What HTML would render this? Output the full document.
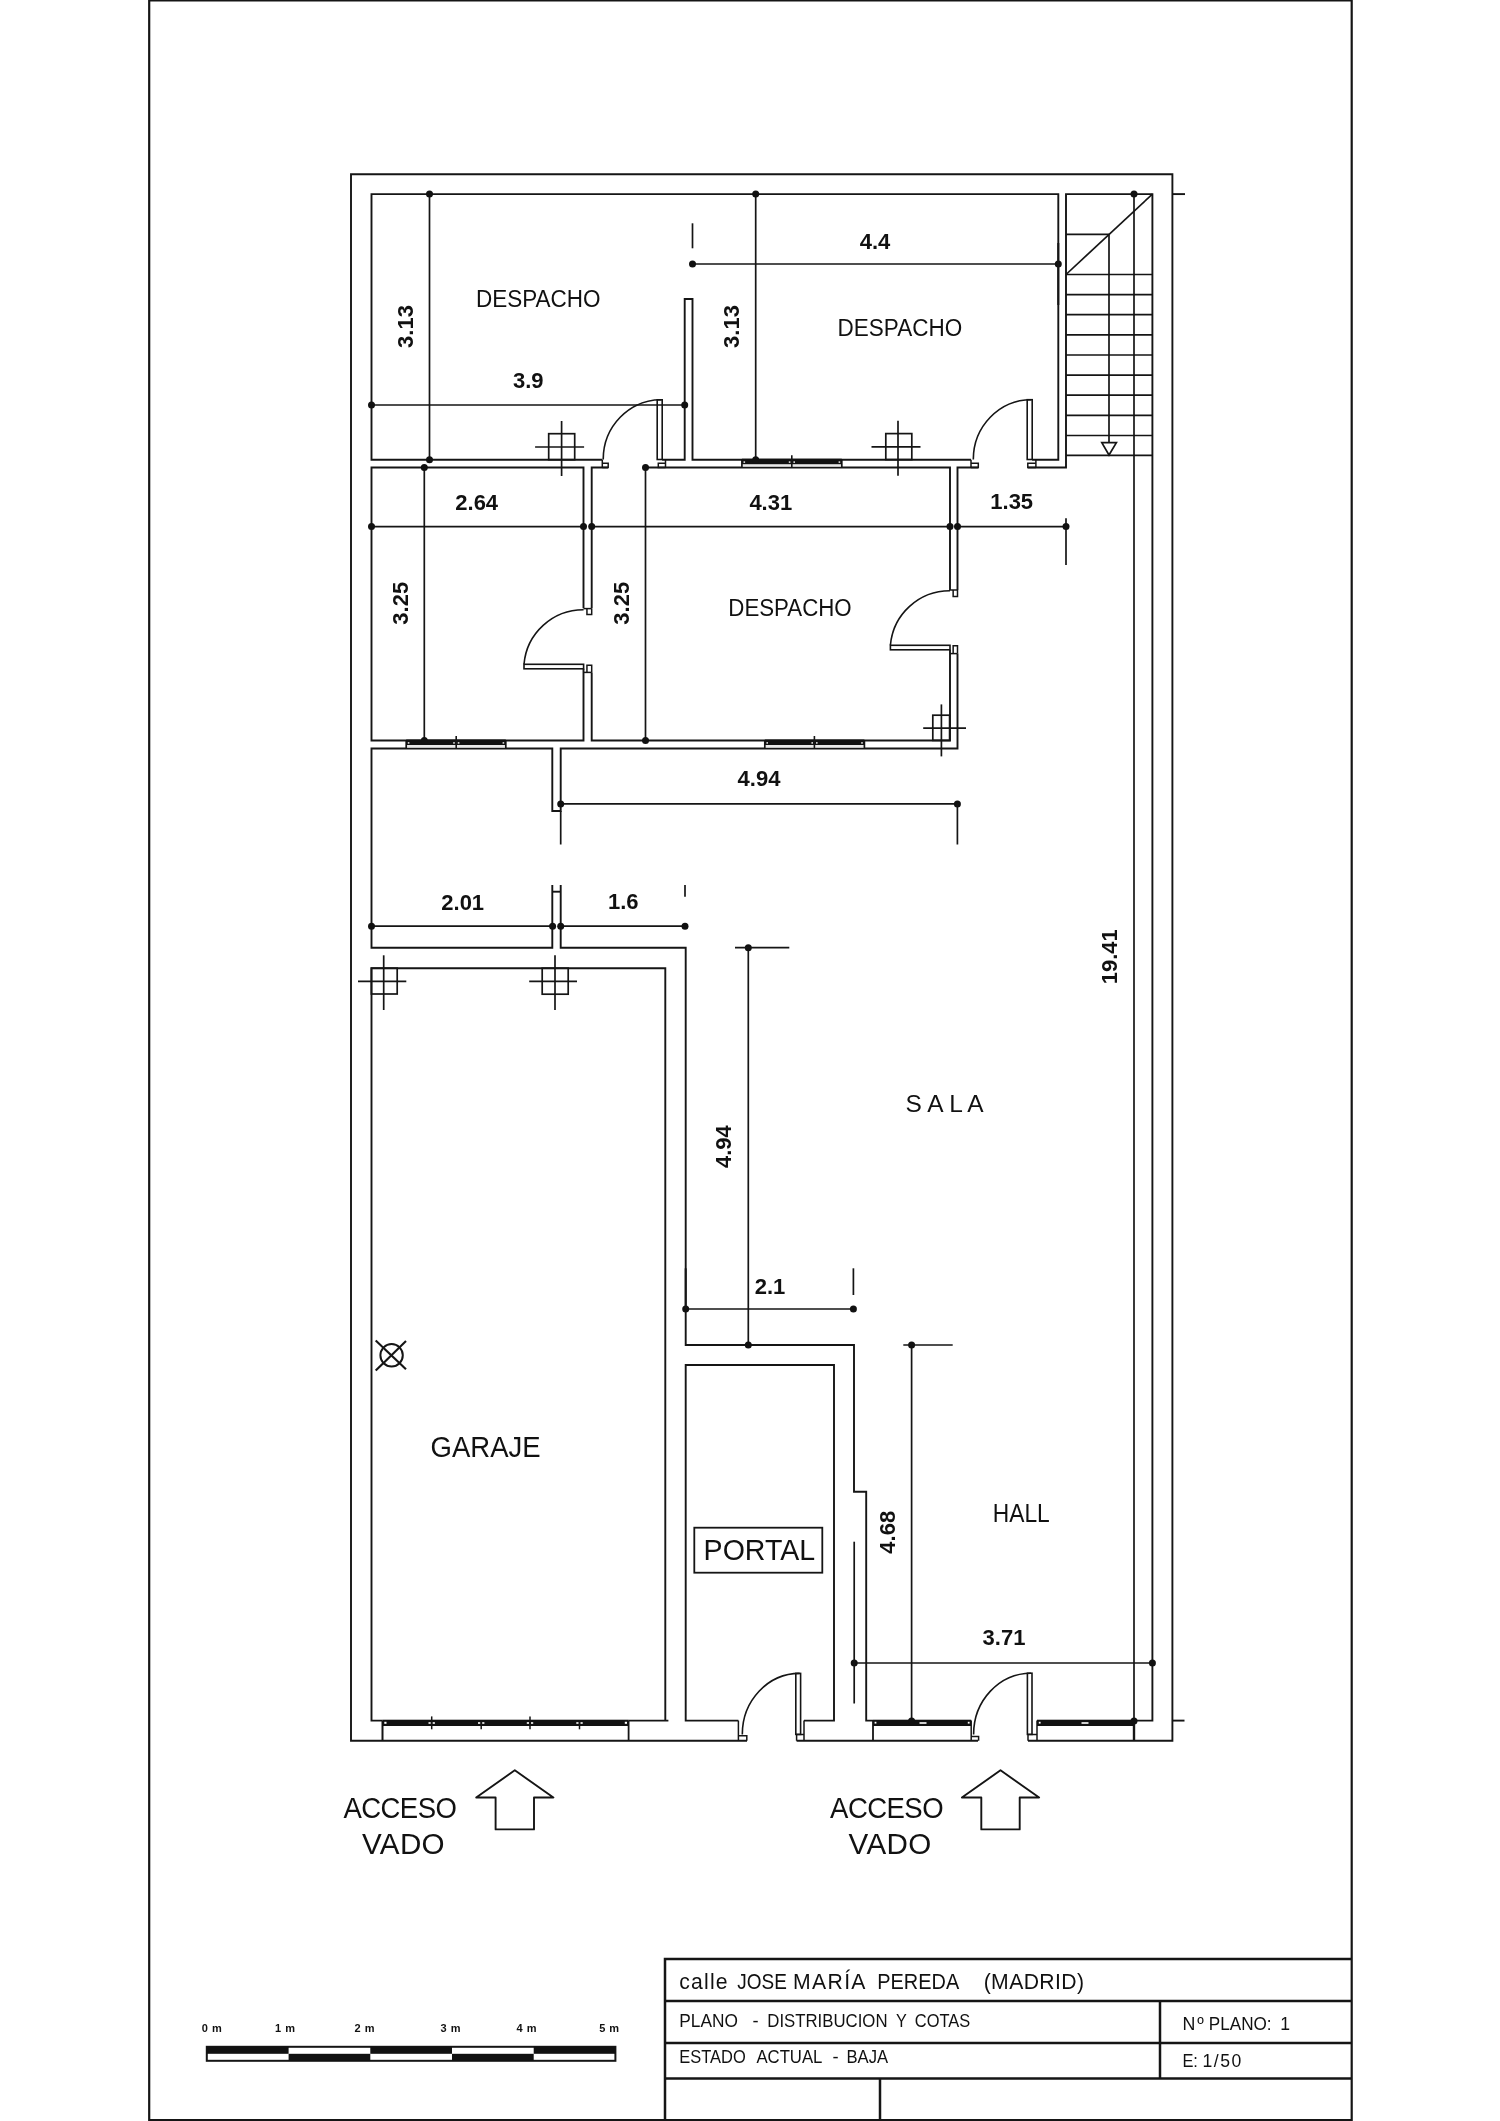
<!DOCTYPE html>
<html lang="es"><head><meta charset="utf-8"><title>Plano - Distribucion y cotas</title>
<style>
html,body{margin:0;padding:0;background:#fff}
body{width:1500px;height:2121px;overflow:hidden}
svg{display:block;will-change:transform}
svg text{font-family:"Liberation Sans",sans-serif;fill:#111;stroke:none}
.d{font-weight:bold;font-size:22px;text-anchor:middle}
</style></head><body>
<svg width="1500" height="2121" viewBox="0 0 1500 2121" fill="none" stroke="#151515" stroke-width="1.9" stroke-linecap="butt" stroke-linejoin="miter">
<g id="frame" stroke-width="2.2">
<path d="M149.2 0 L149.2 2120 L1351.7 2120 L1351.7 0"/>
<line x1="149.2" y1="0.4" x2="1351.7" y2="0.4"/>
</g>
<g id="walls">
<path d="M747 1740.8 L351.0 1740.8 L351.0 174.3 L1172.4 174.3 L1172.4 1740.8 L1028 1740.8"/>
<line x1="796.6" y1="1740.8" x2="978" y2="1740.8"/>
<line x1="1172.4" y1="194.1" x2="1185" y2="194.1"/>
<line x1="1172.4" y1="1720.6" x2="1184.5" y2="1720.6"/>
<path d="M602.3 459.7 L371.5 459.7 L371.5 194.1 L1058.3 194.1 L1058.3 459.7 L1032.2 459.7"/>
<path d="M662.2 459.7 L684.7 459.7 L684.7 299 L692.5 299 L692.5 459.7 L971 459.7"/>
<path d="M1027.8 467.5 L1066 467.5 L1066 194.1 L1152.4 194.1 L1152.4 1720.6 L1134 1720.6"/>
<path d="M583.5 608.3 L583.5 467.5 L371.5 467.5 L371.5 740.5 L583.5 740.5 L583.5 668.8"/>
<path d="M608 467.5 L591.7 467.5 L591.7 608.3"/>
<path d="M591.7 672.4 L591.7 740.5 L950 740.5 L950 649.8"/>
<path d="M950 590 L950 467.5 L645 467.5"/>
<path d="M978.3 467.5 L957.5 467.5 L957.5 590"/>
<path d="M957.5 653.6 L957.5 748.5 L560.7 748.5 L560.7 811 L552.3 811 L552.3 748.5 L371.5 748.5 L371.5 947.7 L552.3 947.7 L552.3 885"/>
<line x1="552.3" y1="891.7" x2="560.7" y2="891.7"/>
<path d="M560.7 885 L560.7 947.7 L685.7 947.7 L685.7 1345 L854 1345 L854 1491.7 L866.2 1491.7 L866.2 1720.6 L873 1720.6"/>
<path d="M382.5 1720.6 L371.5 1720.6 L371.5 968.3 L665.3 968.3 L665.3 1720.6"/>
<line x1="628.6" y1="1720.6" x2="668.4" y2="1720.6"/>
<path d="M738.4 1720.6 L685.7 1720.6 L685.7 1365 L834 1365 L834 1720.6 L804 1720.6"/>
</g>
<g id="jambs" stroke-width="1.5">
<line x1="602.3" y1="459.7" x2="602.3" y2="467.5"/>
<path d="M602.3 463.21 L608.2 463.21 L608.2 467.5 L602.3 467.5"/>
<line x1="665.5" y1="459.7" x2="665.5" y2="467.5"/>
<path d="M665.5 463.21 L658.3 463.21 L658.3 467.5 L665.5 467.5"/>
<line x1="971" y1="459.7" x2="971" y2="467.5"/>
<path d="M971 463.21 L978.3 463.21 L978.3 467.5 L971 467.5"/>
<line x1="1035.9" y1="459.7" x2="1035.9" y2="467.5"/>
<path d="M1035.9 463.21 L1027.8 463.21 L1027.8 467.5 L1035.9 467.5"/>
<line x1="583.5" y1="608.6" x2="591.7" y2="608.6"/>
<path d="M586.9440000000001 608.6 L586.9440000000001 614.6 L591.7 614.6 L591.7 608.6"/>
<line x1="583.5" y1="672.4" x2="591.7" y2="672.4"/>
<path d="M586.9440000000001 672.4 L586.9440000000001 665.2 L591.7 665.2 L591.7 672.4"/>
<line x1="950" y1="590" x2="957.5" y2="590"/>
<path d="M953.15 590 L953.15 596.4 L957.5 596.4 L957.5 590"/>
<line x1="950" y1="653.6" x2="957.5" y2="653.6"/>
<path d="M953.15 653.6 L953.15 645.8 L957.5 645.8 L957.5 653.6"/>
<path d="M738.4 1720.6 L738.4 1740.8"/>
<path d="M738.4 1735.8 L746.8 1735.8 L746.8 1740.8"/>
<path d="M804 1720.6 L804 1740.8"/>
<path d="M804 1734.6 L796.6 1734.6 L796.6 1740.8"/>
<path d="M971.2 1720.6 L971.2 1740.8"/>
<path d="M971.2 1736.4 L978.6 1736.4 L978.6 1740.8"/>
<path d="M1037 1720.6 L1037 1740.8"/>
<path d="M1037 1734.6 L1028 1734.6 L1028 1740.8"/>
</g>
<g id="doors" stroke-width="1.6">
<rect x="657.2" y="399.8" width="5.0" height="59.7"/>
<path d="M661.2 399.8 A58.0 59.7 0 0 0 603.2 459.5"/>
<rect x="1027.2" y="399.7" width="5.0" height="59.8"/>
<path d="M1031.2 399.7 A57.9 59.8 0 0 0 973.3 459.5"/>
<rect x="795.8" y="1673.4" width="4.8" height="61.0"/>
<path d="M799.6 1673.4 A57.3 61.0 0 0 0 742.3 1734.4"/>
<rect x="1027.4" y="1673.2" width="4.6" height="61.2"/>
<path d="M1031 1673.2 A57.4 61.2 0 0 0 973.6 1734.4"/>
<rect x="524" y="664.3" width="59.6" height="4.5"/>
<path d="M524 664.3 A59.6 59.6 0 0 1 583.6 609.8"/>
<rect x="890.4" y="645.3" width="59.6" height="4.5"/>
<path d="M890.4 645.3 A59.6 59.6 0 0 1 950 590.8"/>
</g>
<g id="windows" stroke-width="1.1">
<rect x="741.9" y="462.7" width="99.9" height="3.9" stroke-width="0" fill="#e9e9e9"/>
<line x1="741.9" y1="459.7" x2="741.9" y2="467.5" stroke-width="1.7"/>
<line x1="841.8" y1="459.7" x2="841.8" y2="467.5" stroke-width="1.7"/>
<rect x="741.9" y="458.7" width="99.9" height="5.5" stroke-width="0" fill="#111"/>
<rect x="743.5" y="461.3" width="1.6" height="1.6" stroke-width="0" fill="#ddd"/>
<rect x="838.5999999999999" y="461.3" width="1.6" height="1.6" stroke-width="0" fill="#ddd"/>
<rect x="788.8" y="461.3" width="1.6" height="1.6" stroke-width="0" fill="#ddd"/>
<rect x="793.4" y="461.3" width="1.6" height="1.6" stroke-width="0" fill="#ddd"/>
<line x1="791.8" y1="455.2" x2="791.8" y2="467.5" stroke-width="1.6"/>
<rect x="406.2" y="743.5" width="99.6" height="4.1" stroke-width="0" fill="#e9e9e9"/>
<line x1="406.2" y1="740.5" x2="406.2" y2="748.5" stroke-width="1.7"/>
<line x1="505.8" y1="740.5" x2="505.8" y2="748.5" stroke-width="1.7"/>
<rect x="406.2" y="739.5" width="99.6" height="5.5" stroke-width="0" fill="#111"/>
<rect x="407.8" y="742.1" width="1.6" height="1.6" stroke-width="0" fill="#ddd"/>
<rect x="502.6" y="742.1" width="1.6" height="1.6" stroke-width="0" fill="#ddd"/>
<rect x="453.2" y="742.1" width="1.6" height="1.6" stroke-width="0" fill="#ddd"/>
<rect x="457.8" y="742.1" width="1.6" height="1.6" stroke-width="0" fill="#ddd"/>
<line x1="456.2" y1="736.0" x2="456.2" y2="748.5" stroke-width="1.6"/>
<rect x="764.8" y="743.5" width="99.6" height="4.1" stroke-width="0" fill="#e9e9e9"/>
<line x1="764.8" y1="740.5" x2="764.8" y2="748.5" stroke-width="1.7"/>
<line x1="864.4" y1="740.5" x2="864.4" y2="748.5" stroke-width="1.7"/>
<rect x="764.8" y="739.5" width="99.6" height="5.5" stroke-width="0" fill="#111"/>
<rect x="766.4" y="742.1" width="1.6" height="1.6" stroke-width="0" fill="#ddd"/>
<rect x="861.1999999999999" y="742.1" width="1.6" height="1.6" stroke-width="0" fill="#ddd"/>
<rect x="811.4" y="742.1" width="1.6" height="1.6" stroke-width="0" fill="#ddd"/>
<rect x="816.0" y="742.1" width="1.6" height="1.6" stroke-width="0" fill="#ddd"/>
<line x1="814.4" y1="736.0" x2="814.4" y2="748.5" stroke-width="1.6"/>
<line x1="382.5" y1="1720.6" x2="382.5" y2="1740.8" stroke-width="2"/>
<line x1="628.6" y1="1720.6" x2="628.6" y2="1740.8" stroke-width="1.8"/>
<rect x="382.5" y="1719.7" width="246.1" height="6.3" stroke-width="0" fill="#111"/>
<line x1="431.7" y1="1716.4" x2="431.7" y2="1729.3" stroke-width="1.5"/>
<rect x="428.5" y="1722.2" width="2.2" height="1.6" stroke-width="0" fill="#fff"/>
<rect x="432.7" y="1722.2" width="2.2" height="1.6" stroke-width="0" fill="#fff"/>
<line x1="481.2" y1="1720" x2="481.2" y2="1729.3" stroke-width="1.5"/>
<rect x="478.0" y="1722.2" width="2.2" height="1.6" stroke-width="0" fill="#fff"/>
<rect x="482.2" y="1722.2" width="2.2" height="1.6" stroke-width="0" fill="#fff"/>
<line x1="530" y1="1716.4" x2="530" y2="1729.3" stroke-width="1.5"/>
<rect x="526.8" y="1722.2" width="2.2" height="1.6" stroke-width="0" fill="#fff"/>
<rect x="531" y="1722.2" width="2.2" height="1.6" stroke-width="0" fill="#fff"/>
<line x1="579.5" y1="1720" x2="579.5" y2="1729.3" stroke-width="1.5"/>
<rect x="576.3" y="1722.2" width="2.2" height="1.6" stroke-width="0" fill="#fff"/>
<rect x="580.5" y="1722.2" width="2.2" height="1.6" stroke-width="0" fill="#fff"/>
<rect x="384.3" y="1721.8" width="2.2" height="2" stroke-width="0" fill="#fff"/>
<rect x="624.8" y="1721.8" width="2.2" height="2" stroke-width="0" fill="#fff"/>
<line x1="873" y1="1720.6" x2="873" y2="1740.8" stroke-width="1.8"/>
<rect x="873" y="1719.7" width="98.2" height="6.3" stroke-width="0" fill="#111"/>
<rect x="919.5" y="1722.2" width="7" height="1.6" stroke-width="0" fill="#fff"/>
<rect x="874.6" y="1721.8" width="1.8" height="1.8" stroke-width="0" fill="#fff"/>
<rect x="967.8" y="1721.8" width="1.8" height="1.8" stroke-width="0" fill="#fff"/>
<line x1="1134" y1="1720.6" x2="1134" y2="1740.8" stroke-width="2.4"/>
<rect x="1037" y="1719.7" width="97" height="6.3" stroke-width="0" fill="#111"/>
<rect x="1081.5" y="1722.2" width="7" height="1.6" stroke-width="0" fill="#fff"/>
<rect x="1038.8" y="1721.8" width="1.8" height="1.8" stroke-width="0" fill="#fff"/>
</g>
<g id="columns" stroke-width="1.7">
<rect x="548.7" y="433.7" width="26" height="26"/>
<line x1="535.1" y1="447" x2="584.1" y2="447"/>
<line x1="561.6" y1="421" x2="561.6" y2="476"/>
<rect x="885.8" y="433.6" width="26" height="26"/>
<line x1="871.5" y1="446.8" x2="920.5" y2="446.8"/>
<line x1="898" y1="420.8" x2="898" y2="475.8"/>
<rect x="932.8" y="715.2" width="16.8" height="25.2"/>
<line x1="923.2" y1="728.2" x2="966" y2="728.2"/>
<line x1="941.4" y1="704.4" x2="941.4" y2="756.4"/>
<rect x="371.4" y="968.2" width="25.8" height="25.8"/>
<line x1="358.0" y1="981.3" x2="406.3" y2="981.3"/>
<line x1="383.7" y1="955.3" x2="383.7" y2="1010.0"/>
<rect x="542.2" y="968.2" width="26" height="26"/>
<line x1="529.2" y1="981.3" x2="577" y2="981.3"/>
<line x1="555" y1="955.3" x2="555" y2="1010.0"/>
<circle cx="391.6" cy="1355.3" r="11.2" stroke-width="2"/>
<line x1="375.7" y1="1340.5" x2="406" y2="1369.3" stroke-width="2.1"/>
<line x1="375.7" y1="1370.6" x2="406" y2="1341" stroke-width="2.1"/>
</g>
<g id="stairs" stroke-width="1.7">
<line x1="1066" y1="274.5" x2="1152.4" y2="274.5"/>
<line x1="1066" y1="294.6" x2="1152.4" y2="294.6"/>
<line x1="1066" y1="314.7" x2="1152.4" y2="314.7"/>
<line x1="1066" y1="334.8" x2="1152.4" y2="334.8"/>
<line x1="1066" y1="355" x2="1152.4" y2="355"/>
<line x1="1066" y1="375.2" x2="1152.4" y2="375.2"/>
<line x1="1066" y1="395.2" x2="1152.4" y2="395.2"/>
<line x1="1066" y1="415.3" x2="1152.4" y2="415.3"/>
<line x1="1066" y1="435.5" x2="1152.4" y2="435.5"/>
<line x1="1066" y1="455.4" x2="1152.4" y2="455.4"/>
<line x1="1066" y1="234.3" x2="1109" y2="234.3"/>
<line x1="1066" y1="274.5" x2="1152.4" y2="194.1"/>
<line x1="1109" y1="234.3" x2="1109" y2="443"/>
<path d="M1101.8 442.6 L1116.4 442.6 L1109 455 Z"/>
</g>
<g id="dims" stroke-width="1.7">
<line x1="429.5" y1="194.1" x2="429.5" y2="459.7"/>
<circle cx="429.5" cy="194.1" r="3.5" fill="#111" stroke="none"/>
<circle cx="429.5" cy="459.7" r="3.5" fill="#111" stroke="none"/>
<line x1="755.7" y1="194.1" x2="755.7" y2="459.7"/>
<circle cx="755.7" cy="194.1" r="3.5" fill="#111" stroke="none"/>
<circle cx="755.7" cy="459.7" r="3.5" fill="#111" stroke="none"/>
<line x1="371.5" y1="405" x2="684.7" y2="405"/>
<circle cx="371.5" cy="405" r="3.5" fill="#111" stroke="none"/>
<circle cx="684.7" cy="405" r="3.5" fill="#111" stroke="none"/>
<line x1="692.5" y1="264" x2="1058.3" y2="264"/>
<circle cx="692.5" cy="264" r="3.5" fill="#111" stroke="none"/>
<circle cx="1058.3" cy="264" r="3.5" fill="#111" stroke="none"/>
<line x1="692.5" y1="223.3" x2="692.5" y2="248.3"/>
<line x1="1058.3" y1="243" x2="1058.3" y2="305" stroke-width="2"/>
<line x1="371.5" y1="526.6" x2="583.5" y2="526.6"/>
<circle cx="371.5" cy="526.6" r="3.5" fill="#111" stroke="none"/>
<circle cx="583.5" cy="526.6" r="3.5" fill="#111" stroke="none"/>
<line x1="591.7" y1="526.6" x2="950" y2="526.6"/>
<circle cx="591.7" cy="526.6" r="3.5" fill="#111" stroke="none"/>
<circle cx="950" cy="526.6" r="3.5" fill="#111" stroke="none"/>
<line x1="957.5" y1="526.6" x2="1066" y2="526.6"/>
<circle cx="957.5" cy="526.6" r="3.5" fill="#111" stroke="none"/>
<circle cx="1066" cy="526.6" r="3.5" fill="#111" stroke="none"/>
<line x1="1066" y1="518.3" x2="1066" y2="565"/>
<line x1="424.3" y1="467.5" x2="424.3" y2="740.5"/>
<circle cx="424.3" cy="467.5" r="3.5" fill="#111" stroke="none"/>
<circle cx="424.3" cy="740.5" r="3.5" fill="#111" stroke="none"/>
<line x1="645.5" y1="467.5" x2="645.5" y2="740.6"/>
<circle cx="645.5" cy="467.5" r="3.5" fill="#111" stroke="none"/>
<circle cx="645.5" cy="740.6" r="3.5" fill="#111" stroke="none"/>
<line x1="560.7" y1="803.9" x2="957.4" y2="803.9"/>
<circle cx="560.7" cy="803.9" r="3.5" fill="#111" stroke="none"/>
<circle cx="957.4" cy="803.9" r="3.5" fill="#111" stroke="none"/>
<line x1="560.7" y1="811" x2="560.7" y2="844.5"/>
<line x1="957.4" y1="803.9" x2="957.4" y2="844.5"/>
<line x1="371.5" y1="926.2" x2="552.6" y2="926.2"/>
<circle cx="371.5" cy="926.2" r="3.5" fill="#111" stroke="none"/>
<circle cx="552.6" cy="926.2" r="3.5" fill="#111" stroke="none"/>
<line x1="560.7" y1="926.2" x2="685" y2="926.2"/>
<circle cx="560.7" cy="926.2" r="3.5" fill="#111" stroke="none"/>
<circle cx="685" cy="926.2" r="3.5" fill="#111" stroke="none"/>
<line x1="685" y1="885" x2="685" y2="896.7"/>
<line x1="748.3" y1="947.7" x2="748.3" y2="1345"/>
<circle cx="748.3" cy="947.7" r="3.5" fill="#111" stroke="none"/>
<circle cx="748.3" cy="1345" r="3.5" fill="#111" stroke="none"/>
<line x1="735" y1="947.7" x2="789.3" y2="947.7"/>
<line x1="685.7" y1="1309" x2="853.4" y2="1309"/>
<circle cx="685.7" cy="1309" r="3.5" fill="#111" stroke="none"/>
<circle cx="853.4" cy="1309" r="3.5" fill="#111" stroke="none"/>
<line x1="685.7" y1="1268.3" x2="685.7" y2="1309" stroke-width="2"/>
<line x1="853.4" y1="1268.3" x2="853.4" y2="1295"/>
<line x1="911.6" y1="1345" x2="911.6" y2="1721"/>
<circle cx="911.6" cy="1345" r="3.5" fill="#111" stroke="none"/>
<circle cx="911.6" cy="1721" r="3.5" fill="#111" stroke="none"/>
<line x1="903.3" y1="1345" x2="952.7" y2="1345"/>
<line x1="854.2" y1="1663" x2="1152.4" y2="1663"/>
<circle cx="854.2" cy="1663" r="3.5" fill="#111" stroke="none"/>
<circle cx="1152.4" cy="1663" r="3.5" fill="#111" stroke="none"/>
<line x1="854.2" y1="1541.7" x2="854.2" y2="1703.5"/>
<line x1="1134" y1="194.1" x2="1134" y2="1721"/>
<circle cx="1134" cy="194.1" r="3.5" fill="#111" stroke="none"/>
<circle cx="1134" cy="1721" r="3.5" fill="#111" stroke="none"/>
</g>
<text class="d" x="528.3" y="388">3.9</text>
<text class="d" x="875" y="248.5">4.4</text>
<text class="d" x="476.7" y="510">2.64</text>
<text class="d" x="770.8" y="510">4.31</text>
<text class="d" x="1011.7" y="509.3">1.35</text>
<text class="d" x="759" y="786.2">4.94</text>
<text class="d" x="462.7" y="910">2.01</text>
<text class="d" x="623.3" y="909.3">1.6</text>
<text class="d" x="770" y="1293.5">2.1</text>
<text class="d" x="1004" y="1645.3">3.71</text>
<text class="d" transform="translate(412.7 326.5) rotate(-90)">3.13</text>
<text class="d" transform="translate(738.8 326.5) rotate(-90)">3.13</text>
<text class="d" transform="translate(407.6 603.3) rotate(-90)">3.25</text>
<text class="d" transform="translate(629.3 603.3) rotate(-90)">3.25</text>
<text class="d" transform="translate(731.2 1146.7) rotate(-90)">4.94</text>
<text class="d" transform="translate(894.5 1532.3) rotate(-90)">4.68</text>
<text class="d" transform="translate(1117 956.7) rotate(-90)">19.41</text>
<text x="476" y="306.8" font-size="24.6" textLength="124.6" lengthAdjust="spacingAndGlyphs">DESPACHO</text>
<text x="837.6" y="335.8" font-size="24.6" textLength="124.6" lengthAdjust="spacingAndGlyphs">DESPACHO</text>
<text x="728.3" y="615.8" font-size="24.6" textLength="123.4" lengthAdjust="spacingAndGlyphs">DESPACHO</text>
<text x="905.6" y="1111.8" font-size="24.6" textLength="78" lengthAdjust="spacingAndGlyphs">S A L A</text>
<text x="430.6" y="1457.4" font-size="30.2" textLength="110" lengthAdjust="spacingAndGlyphs">GARAJE</text>
<text x="703.6" y="1560.2" font-size="30.2" textLength="111.6" lengthAdjust="spacingAndGlyphs">PORTAL</text>
<rect x="694.3" y="1527.7" width="128" height="45" stroke-width="1.8"/>
<text x="992.8" y="1521.8" font-size="25" textLength="57" lengthAdjust="spacingAndGlyphs">HALL</text>
<text transform="translate(343.4 1818.4) scale(0.93 1)" font-size="29.6" textLength="122.0" lengthAdjust="spacing">ACCESO</text>
<text transform="translate(362 1854.2) scale(1 1)" font-size="29.6" textLength="82.6" lengthAdjust="spacing">VADO</text>
<text transform="translate(830.1 1818.4) scale(0.93 1)" font-size="29.6" textLength="122.0" lengthAdjust="spacing">ACCESO</text>
<text transform="translate(848.6 1854.2) scale(1 1)" font-size="29.6" textLength="82.6" lengthAdjust="spacing">VADO</text>
<g id="arrows" stroke-width="1.9" stroke-linejoin="round">
<path d="M514.8 1770.3 L553.4 1797.5 L534.0 1797.5 L534.0 1829.4 L495.59999999999997 1829.4 L495.59999999999997 1797.5 L476.19999999999993 1797.5 Z"/>
<path d="M1000.5 1770.3 L1039.1 1797.5 L1019.7 1797.5 L1019.7 1829.4 L981.3 1829.4 L981.3 1797.5 L961.9 1797.5 Z"/>
</g>
<g id="title" stroke-width="2.5">
<path d="M1351.7 1959 L665 1959 L665 2120"/>
<line x1="665" y1="2001" x2="1351.7" y2="2001"/>
<line x1="665" y1="2043" x2="1351.7" y2="2043"/>
<line x1="665" y1="2078.5" x2="1351.7" y2="2078.5"/>
<line x1="1160" y1="2001" x2="1160" y2="2078.5"/>
<line x1="880" y1="2078.5" x2="880" y2="2120"/>
</g>
<text transform="translate(679.3 1989.2) scale(1.0 1)" font-size="21.2" textLength="48.3" lengthAdjust="spacing">calle</text>
<text transform="translate(737.3 1989.2) scale(0.896 1)" font-size="21.2" textLength="55.4" lengthAdjust="spacing">JOSE</text>
<text transform="translate(793.1 1989.2) scale(1.0 1)" font-size="21.2" textLength="72.4" lengthAdjust="spacing">MARÍA</text>
<text transform="translate(877.3 1989.2) scale(0.941 1)" font-size="21.2" textLength="87.1" lengthAdjust="spacing">PEREDA</text>
<text transform="translate(983.7 1989.2) scale(1.0 1)" font-size="21.2" textLength="100.3" lengthAdjust="spacing">(MADRID)</text>
<text transform="translate(679.3 2026.7) scale(0.945 1)" font-size="18.3" textLength="62.0" lengthAdjust="spacing">PLANO</text>
<text transform="translate(752.6 2026.7) scale(1.0 1)" font-size="18.3">-</text>
<text transform="translate(767.3 2026.7) scale(0.917 1)" font-size="18.3" textLength="131.1" lengthAdjust="spacing">DISTRIBUCION</text>
<text transform="translate(896 2026.7) scale(0.885 1)" font-size="18.3">Y</text>
<text transform="translate(914.8 2026.7) scale(0.899 1)" font-size="18.3" textLength="61.6" lengthAdjust="spacing">COTAS</text>
<text transform="translate(679.3 2062.8) scale(0.901 1)" font-size="18.3" textLength="73.8" lengthAdjust="spacing">ESTADO</text>
<text transform="translate(756.4 2062.8) scale(0.915 1)" font-size="18.3" textLength="72.1" lengthAdjust="spacing">ACTUAL</text>
<text transform="translate(832.4 2062.8) scale(1.0 1)" font-size="18.3">-</text>
<text transform="translate(846.5 2062.8) scale(0.91 1)" font-size="18.3" textLength="45.7" lengthAdjust="spacing">BAJA</text>
<text transform="translate(1182.4 2030) scale(1.0 1)" font-size="17.8" textLength="21.4" lengthAdjust="spacing">Nº</text>
<text transform="translate(1208.8 2030) scale(0.963 1)" font-size="17.8" textLength="65.2" lengthAdjust="spacing">PLANO:</text>
<text transform="translate(1280.2 2030) scale(0.991 1)" font-size="17.8">1</text>
<text transform="translate(1182.4 2067) scale(0.933 1)" font-size="17.6" textLength="16.6" lengthAdjust="spacing">E:</text>
<text transform="translate(1202.6 2067) scale(1.0 1)" font-size="17.6" textLength="38.6" lengthAdjust="spacing">1/50</text>
<g id="scale">
<rect x="206.8" y="2046.8" width="408.6" height="14" stroke-width="2" fill="#fff"/>
<rect x="206.8" y="2046.8" width="81.8" height="7" stroke-width="0" fill="#111"/>
<rect x="288.6" y="2053.8" width="81.7" height="7" stroke-width="0" fill="#111"/>
<rect x="370.3" y="2046.8" width="81.7" height="7" stroke-width="0" fill="#111"/>
<rect x="452" y="2053.8" width="81.7" height="7" stroke-width="0" fill="#111"/>
<rect x="533.7" y="2046.8" width="81.7" height="7" stroke-width="0" fill="#111"/>
</g>
<text x="201.8" y="2032" font-size="11" font-weight="bold" letter-spacing="0.5">0 m</text>
<text x="275" y="2032" font-size="11" font-weight="bold" letter-spacing="0.5">1 m</text>
<text x="354.5" y="2032" font-size="11" font-weight="bold" letter-spacing="0.5">2 m</text>
<text x="440.6" y="2032" font-size="11" font-weight="bold" letter-spacing="0.5">3 m</text>
<text x="516.6" y="2032" font-size="11" font-weight="bold" letter-spacing="0.5">4 m</text>
<text x="599.2" y="2032" font-size="11" font-weight="bold" letter-spacing="0.5">5 m</text>
</svg>
</body></html>
